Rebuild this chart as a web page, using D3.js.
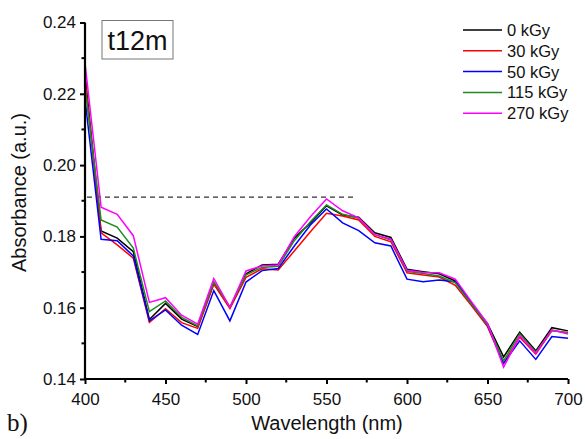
<!DOCTYPE html>
<html>
<head>
<meta charset="utf-8">
<script src="https://cdn.jsdelivr.net/npm/d3@7"></script>
<style>
  html, body { margin: 0; padding: 0; background: #fff; }
  svg { display: block; font-family: "Liberation Sans", Arial, sans-serif; }
</style>
</head>
<body>
<svg id="chart" width="585" height="439"></svg>
<script>
const wavelengths = [400,410,420,430,440,450,460,470,480,490,500,510,520,530,540,550,560,570,580,590,600,610,620,630,640,650,660,670,680,690,700];

const seriesNames = ["0 kGy","30 kGy","50 kGy","115 kGy","270 kGy"];
const seriesColors = ["#000000","#ff0000","#0000ff","#1f8a1f","#ff00ff"];

const abs0 =   [0.2255,0.1815,0.1795,0.1757,0.1567,0.1612,0.1568,0.1547,0.1668,0.1600,0.1695,0.1720,0.1722,0.1795,0.1838,0.1886,0.1860,0.1854,0.1810,0.1797,0.1708,0.1701,0.1695,0.1675,0.1612,0.1555,0.1462,0.1531,0.1479,0.1544,0.1535];
const abs30 =  [0.2240,0.1810,0.1776,0.1739,0.1559,0.1597,0.1558,0.1542,0.1666,0.1598,0.1685,0.1709,0.1706,0.1759,0.1813,0.1865,0.1857,0.1846,0.1800,0.1785,0.1698,0.1692,0.1686,0.1663,0.1606,0.1547,0.1444,0.1517,0.1470,0.1536,0.1530];
const abs50 =  [0.2185,0.1792,0.1788,0.1745,0.1563,0.1594,0.1551,0.1525,0.1648,0.1563,0.1672,0.1704,0.1710,0.1773,0.1832,0.1877,0.1838,0.1816,0.1782,0.1773,0.1680,0.1673,0.1678,0.1673,0.1612,0.1551,0.1444,0.1507,0.1455,0.1519,0.1514];
const abs115 = [0.2220,0.1846,0.1826,0.1767,0.1589,0.1619,0.1573,0.1549,0.1673,0.1602,0.1692,0.1713,0.1716,0.1788,0.1841,0.1888,0.1862,0.1851,0.1805,0.1790,0.1702,0.1696,0.1689,0.1670,0.1610,0.1552,0.1451,0.1527,0.1475,0.1536,0.1530];
const abs270 = [0.2286,0.1882,0.1862,0.1802,0.1615,0.1628,0.1579,0.1554,0.1682,0.1601,0.1703,0.1717,0.1720,0.1799,0.1855,0.1905,0.1872,0.1852,0.1805,0.1792,0.1705,0.1699,0.1698,0.1680,0.1617,0.1556,0.1433,0.1521,0.1472,0.1538,0.1526];

const seriesValues = [abs0, abs30, abs50, abs115, abs270];

const xTicks = [400,450,500,550,600,650,700];
const xMinorTicks = [425,475,525,575,625,675];
const yTicks = [0.14,0.16,0.18,0.20,0.22,0.24];
const yMinorTicks = [0.15,0.17,0.19,0.21,0.23];

const refLine = { value: 0.191, from: 400, to: 567 };
const panelLabel = "t12m";

const svg = d3.select("#chart");
const mLeft = 85, mRight = 568, mTop = 22.5, mBottom = 379;

const x = d3.scaleLinear().domain([400,700]).range([mLeft,mRight]);
const y = d3.scaleLinear().domain([0.14,0.24]).range([mBottom,mTop]);

// dashed reference line
svg.append("line")
  .attr("x1", x(refLine.from) + 2).attr("x2", x(refLine.to))
  .attr("y1", y(refLine.value)).attr("y2", y(refLine.value))
  .attr("stroke", "#333").attr("stroke-width", 1.2)
  .attr("stroke-dasharray", "5,4");

// lines
const line = d3.line().x((d,i) => x(wavelengths[i])).y(d => y(d));
seriesValues.forEach((vals, k) => {
  svg.append("path")
    .datum(vals)
    .attr("d", line)
    .attr("fill", "none")
    .attr("stroke", seriesColors[k])
    .attr("stroke-width", 1.5)
    .attr("stroke-linejoin", "miter");
});

// axes
const xAxis = d3.axisBottom(x).tickValues(xTicks).tickFormat(d3.format("d")).tickSize(5).tickPadding(9);
const gx = svg.append("g").attr("transform", `translate(0,${mBottom})`).call(xAxis);
gx.selectAll(".tick line").attr("stroke", "#000").attr("stroke-width", 2);
gx.selectAll("text").attr("font-size", 17).attr("fill", "#111");
gx.selectAll(".minor").data(xMinorTicks).enter().append("line")
  .attr("x1", d => x(d)).attr("x2", d => x(d)).attr("y1", 0).attr("y2", 3.5)
  .attr("stroke", "#000").attr("stroke-width", 2);
gx.select(".domain").attr("stroke", "#000").attr("stroke-width", 2.2)
  .attr("d", `M${mLeft-1},0H${mRight}`);

const yAxis = d3.axisLeft(y).tickValues(yTicks).tickFormat(d3.format(".2f")).tickSize(5).tickPadding(4);
const gy = svg.append("g").attr("transform", `translate(${mLeft},0)`).call(yAxis);
gy.selectAll(".tick line").attr("stroke", "#000").attr("stroke-width", 2);
gy.selectAll("text").attr("font-size", 17).attr("fill", "#111");
gy.selectAll(".minor").data(yMinorTicks).enter().append("line")
  .attr("y1", d => y(d)).attr("y2", d => y(d)).attr("x1", 0).attr("x2", -3.5)
  .attr("stroke", "#000").attr("stroke-width", 2);
gy.select(".domain").attr("stroke", "#000").attr("stroke-width", 2.2)
  .attr("d", `M0,${mTop}V${mBottom+1}`);

// axis titles
svg.append("text")
  .attr("x", 327).attr("y", 430)
  .attr("text-anchor", "middle").attr("font-size", 20).attr("fill", "#111")
  .text("Wavelength (nm)");
svg.append("text")
  .attr("transform", "translate(26,192.5) rotate(-90)")
  .attr("text-anchor", "middle").attr("font-size", 20).attr("fill", "#111")
  .text("Absorbance (a.u.)");

// panel letter
svg.append("text")
  .attr("x", 7).attr("y", 431)
  .attr("font-family", "'Liberation Serif', 'Times New Roman', serif")
  .attr("font-size", 25).attr("fill", "#111")
  .text("b)");

// label box
svg.append("rect")
  .attr("x", 102).attr("y", 20.5).attr("width", 71).attr("height", 38.5)
  .attr("fill", "#fff").attr("stroke", "#777").attr("stroke-width", 1);
svg.append("text")
  .attr("x", 137.5).attr("y", 50).attr("text-anchor", "middle")
  .attr("font-size", 27).attr("fill", "#111")
  .text(panelLabel);

// legend
const lg = svg.append("g");
seriesNames.forEach((name, k) => {
  const yy = 30 + k * 20.8;
  lg.append("line")
    .attr("x1", 463).attr("x2", 502).attr("y1", yy).attr("y2", yy)
    .attr("stroke", seriesColors[k]).attr("stroke-width", 1.5);
  lg.append("text")
    .attr("x", 507).attr("y", yy + 6)
    .attr("font-size", 16.5).attr("fill", "#111")
    .text(name);
});
</script>
</body>
</html>
